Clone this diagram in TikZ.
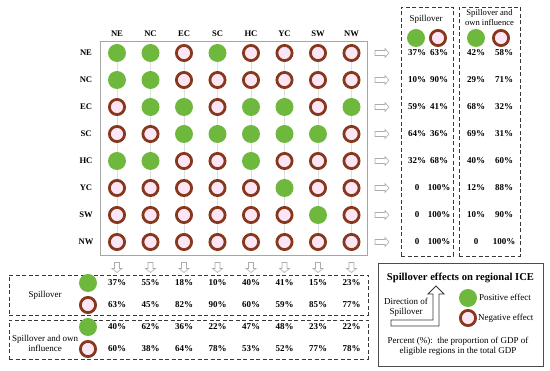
\documentclass[tikz,border=0pt]{standalone}
\usepackage{fontspec}
\setmainfont{Liberation Serif}
\usetikzlibrary{backgrounds}
\definecolor{posg}{RGB}{110,184,62}
\definecolor{negr}{RGB}{135,55,28}
\definecolor{negf}{RGB}{252,230,245}
\definecolor{dline}{RGB}{55,55,55}
\begin{document}
\begin{tikzpicture}[x=1pt,y=-1pt,
  gcirc/.style={circle, fill=posg, minimum size=18pt, inner sep=0pt},
  rcirc/.style={circle, draw=negr, fill=negf, line width=2.8pt, minimum size=15.2pt, inner sep=0pt},
  lab/.style={font=\fontsize{8.6}{9}\selectfont\bfseries, inner sep=0pt},
  pct/.style={font=\fontsize{9}{9}\selectfont\bfseries, inner sep=0pt},
  txt/.style={font=\fontsize{9}{10}\selectfont, inner sep=0pt, align=center},
  dbox/.style={draw=dline, dash pattern=on 4pt off 2.5pt, line width=0.9pt, inner sep=0pt},
  blockarrow/.style={draw=gray!65, fill=white, line width=0.6pt},
  rarr/.pic={\draw[blockarrow] (-7,-2.5) -- (3,-2.5) -- (3,-4.5) -- (7,0) -- (3,4.5) -- (3,2.5) -- (-7,2.5) -- cycle;},
  darr/.pic={\draw[blockarrow] (-2.5,-5) -- (-2.5,1) -- (-5,1) -- (0,5) -- (5,1) -- (2.5,1) -- (2.5,-5) -- cycle;}
]
\useasboundingbox (0,0) rectangle (550,371);

% matrix frame
\node[draw=gray!70, line width=0.8pt, minimum width=267pt, minimum height=214pt, inner sep=0pt] (mbox) at (233.5,148) {};

% headers and row labels
\foreach \r [count=\i from 0] in {NE,NC,EC,SC,HC,YC,SW,NW} {
  \node[lab] (hdr-\i) at ({117+33.5*\i},34) {\r};
  \node[lab] (rl-\i) at (86,{53+27*\i}) {\r};
}

% circles
\foreach \row [count=\j from 0] in {
  {gcirc,gcirc,rcirc,gcirc,rcirc,rcirc,rcirc,rcirc},
  {gcirc,gcirc,rcirc,rcirc,rcirc,rcirc,rcirc,rcirc},
  {rcirc,gcirc,gcirc,rcirc,gcirc,gcirc,rcirc,gcirc},
  {rcirc,rcirc,gcirc,gcirc,gcirc,gcirc,gcirc,rcirc},
  {gcirc,gcirc,rcirc,rcirc,gcirc,rcirc,rcirc,rcirc},
  {rcirc,rcirc,rcirc,rcirc,rcirc,gcirc,rcirc,rcirc},
  {rcirc,rcirc,rcirc,rcirc,rcirc,rcirc,gcirc,rcirc},
  {rcirc,rcirc,rcirc,rcirc,rcirc,rcirc,rcirc,rcirc}} {
  \foreach \c [count=\i from 0] in \row {
    \node[\c] (m-\j-\i) at ({117+33.5*\i},{53+27*\j}) {};
  }
}
\begin{pgfonlayer}{background}
\foreach \i in {0,...,7} { \draw[gray!25, line width=0.4pt] (m-0-\i) -- (m-7-\i); }
\end{pgfonlayer}

% arrows
\foreach \j in {0,...,7} { \pic at (382,{53+27*\j}) {rarr}; }
\foreach \i in {0,...,7} { \pic at ({117+33.5*\i},267.5) {darr}; }

% right dashed boxes
\node[dbox, minimum width=52pt, minimum height=249pt] (rbox1) at (427,131.5) {};
\node[dbox, minimum width=61pt, minimum height=249pt] (rbox2) at (489.5,131.5) {};
\node[txt] (rt1) at (426,19) {Spillover};
\node[txt, font=\fontsize{8.6}{10}\selectfont] (rt2) at (489.5,18) {Spillover and\\own influence};
\node[gcirc] (rg1) at (416,38) {};
\node[rcirc] (rr1) at (438,38) {};
\node[gcirc] (rg2) at (476,38) {};
\node[rcirc] (rr2) at (501,38) {};

\foreach \a/\b/\c/\d [count=\j from 0] in {
  37\%/63\%/42\%/58\%, 10\%/90\%/29\%/71\%, 59\%/41\%/68\%/32\%, 64\%/36\%/69\%/31\%,
  32\%/68\%/40\%/60\%, 0/100\%/12\%/88\%, 0/100\%/10\%/90\%, 0/100\%/0/100\%} {
  \node[pct] (ra-\j) at (417,{53+27*\j}) {\a};
  \node[pct] (rb-\j) at (439,{53+27*\j}) {\b};
  \node[pct] (rc-\j) at (476,{53+27*\j}) {\c};
  \node[pct] (rd-\j) at (504,{53+27*\j}) {\d};
}

% bottom boxes
\node[dbox, minimum width=359pt, minimum height=40pt] (bbox1) at (188.5,295) {};
\node[dbox, minimum width=359pt, minimum height=39pt] (bbox2) at (188.5,339.5) {};
\node[txt] (bt1) at (45,295) {Spillover};
\node[txt] (bt2) at (45,343) {Spillover and own\\influence};
\node[gcirc] (bg1) at (88,283) {};
\node[rcirc] (br1) at (88,305) {};
\node[gcirc] (bg2) at (88,327) {};
\node[rcirc] (br2) at (88,349) {};
\foreach \a/\b/\c/\d [count=\i from 0] in {
  37\%/63\%/40\%/60\%, 55\%/45\%/62\%/38\%, 18\%/82\%/36\%/64\%, 10\%/90\%/22\%/78\%,
  40\%/60\%/47\%/53\%, 41\%/59\%/48\%/52\%, 15\%/85\%/23\%/77\%, 23\%/77\%/22\%/78\%} {
  \node[pct] (ba-\i) at ({117+33.5*\i},283) {\a};
  \node[pct] (bb-\i) at ({117+33.5*\i},305) {\b};
  \node[pct] (bc-\i) at ({117+33.5*\i},327) {\c};
  \node[pct] (bd-\i) at ({117+33.5*\i},349) {\d};
}

% legend
\node[draw=gray!60!black, line width=0.9pt, minimum width=165pt, minimum height=103pt, inner sep=0pt] (leg) at (460.5,314.5) {};
\node[font=\fontsize{10.6}{12}\selectfont\bfseries, inner sep=0pt] (legt) at (460.5,278) {Spillover effects on regional ICE};
\node[txt] (dir) at (406,307.5) {Direction of\\Spillover};
\draw[draw=dline, fill=white, line width=0.9pt] (391,326) -- (439,326) -- (439,294) -- (444,294) -- (436,286) -- (428,294) -- (433,294) -- (433,320) -- (391,320) -- cycle;
\node[gcirc] (lg) at (468,298) {};
\node[rcirc] (lr) at (468,318) {};
\node[txt, anchor=west] (lgt) at (479,297) {Positive effect};
\node[txt, anchor=west] (lrt) at (478,318) {Negative effect};
\node[txt] (pnote) at (458,346) {Percent (\%):\ \ the proportion of GDP of\\eligible regions in the total GDP};
\end{tikzpicture}
\end{document}
